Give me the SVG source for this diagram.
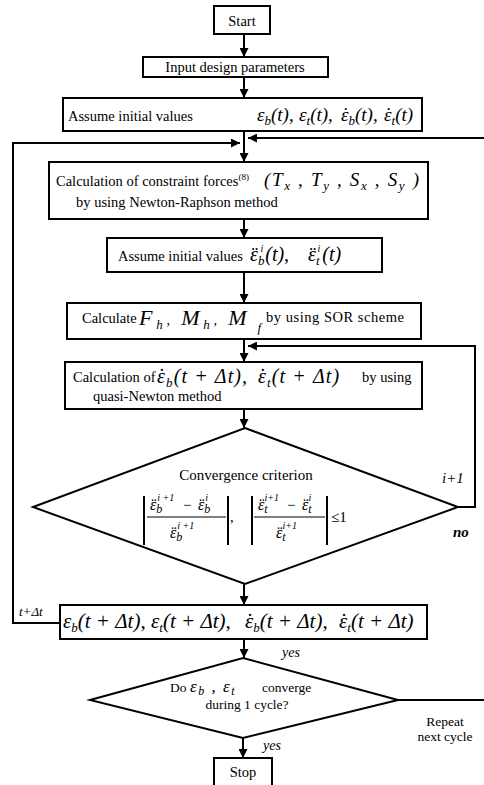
<svg xmlns="http://www.w3.org/2000/svg" width="484" height="785" viewBox="0 0 484 785">
<style>
.bx{fill:#fff;stroke:#000;stroke-width:2}
.ln{fill:none;stroke:#000;stroke-width:2}
.t{font-family:"Liberation Serif","Times New Roman",serif;font-size:14.5px;fill:#000}
.m{font-family:"Liberation Serif","Times New Roman",serif;font-style:italic;font-size:19px;fill:#000}
.f{font-family:"Liberation Serif","Times New Roman",serif;font-style:italic;font-size:15px;fill:#000}
.dt{font-style:normal}
.s{font-size:13px}
.sp{font-size:10px}
.c{text-anchor:middle}
</style>
<defs>
<marker id="ah" viewBox="0 0 10 10" refX="10" refY="5" markerWidth="9" markerHeight="9" markerUnits="userSpaceOnUse" orient="auto">
<path d="M0,0 L10,5 L0,10 z" fill="#000"/>
</marker>
</defs>
<rect width="484" height="785" fill="#fff"/>

<g id="connectors">
<line class="ln" x1="244" y1="34" x2="244" y2="57" marker-end="url(#ah)"/>
<line class="ln" x1="244" y1="77" x2="244" y2="98" marker-end="url(#ah)"/>
<line class="ln" x1="244" y1="131" x2="244" y2="162" marker-end="url(#ah)"/>
<line class="ln" x1="484" y1="138" x2="248" y2="138" marker-end="url(#ah)"/>
<polyline class="ln" points="60,623 13,623 13,143 240,143" marker-end="url(#ah)"/>
<line class="ln" x1="244" y1="219" x2="244" y2="238" marker-end="url(#ah)"/>
<line class="ln" x1="244" y1="272" x2="244" y2="303" marker-end="url(#ah)"/>
<line class="ln" x1="244" y1="339" x2="244" y2="362" marker-end="url(#ah)"/>
<polyline class="ln" points="458,507 475,507 475,346 248,346" marker-end="url(#ah)"/>
<line class="ln" x1="244" y1="409" x2="244" y2="428" marker-end="url(#ah)"/>
<line class="ln" x1="244" y1="584" x2="244" y2="605" marker-end="url(#ah)"/>
<line class="ln" x1="244" y1="639" x2="244" y2="658" marker-end="url(#ah)"/>
<line class="ln" x1="398" y1="700" x2="484" y2="700"/>
<line class="ln" x1="243" y1="738" x2="243" y2="758" marker-end="url(#ah)"/>
<text class="f" x="19" y="616" style="font-size:13px">t+Δt</text>
<text class="f" x="282" y="657" style="font-size:14px">yes</text>
<text class="f" x="263" y="750" style="font-size:14px">yes</text>
<text class="f" x="442" y="483">i+1</text>
<text class="f" x="453" y="537" style="font-weight:bold">no</text>
<text class="t c" x="445" y="726" style="font-size:13.5px">Repeat</text>
<text class="t c" x="445" y="741" style="font-size:13.5px">next cycle</text>
</g>

<g id="start">
<rect class="bx" x="214" y="6" width="56" height="28"/>
<text class="t c" x="242" y="26">Start</text>
</g>

<g id="input">
<rect class="bx" x="143" y="57" width="185" height="20"/>
<text class="t c" x="235" y="72">Input design parameters</text>
</g>

<g id="assume1">
<rect class="bx" x="63" y="98" width="359" height="33"/>
<text class="t" x="68" y="121">Assume initial values</text>
<text class="m" y="121"><tspan x="257">ε</tspan><tspan class="s" dy="4">b</tspan><tspan dy="-4">(t),</tspan><tspan x="299">ε</tspan><tspan class="s" dy="4">t</tspan><tspan dy="-4">(t),</tspan><tspan x="341">ε</tspan><tspan class="dt" dx="-6">˙</tspan><tspan class="s" dx="-0.3" dy="4">b</tspan><tspan dy="-4">(t),</tspan><tspan x="384">ε</tspan><tspan class="dt" dx="-6">˙</tspan><tspan class="s" dx="-0.3" dy="4">t</tspan><tspan dy="-4">(t)</tspan></text>
</g>

<g id="constraint">
<rect class="bx" x="49" y="162" width="379" height="57"/>
<text class="t" x="56" y="186">Calculation of constraint forces<tspan dy="-6" style="font-size:9px">(8)</tspan></text>
<text class="m" x="264" y="186" textLength="155" lengthAdjust="spacing">(T<tspan class="s" dy="4">x</tspan><tspan dy="-4"> , T</tspan><tspan class="s" dy="4">y</tspan><tspan dy="-4"> , S</tspan><tspan class="s" dy="4">x</tspan><tspan dy="-4"> , S</tspan><tspan class="s" dy="4">y</tspan><tspan dy="-4"> )</tspan></text>
<text class="t" x="76" y="207">by using Newton-Raphson method</text>
</g>

<g id="assume2">
<rect class="bx" x="107" y="238" width="275" height="34"/>
<text class="t" x="118" y="261">Assume initial values</text>
<text class="m" y="261" style="font-size:20px"><tspan x="250">ε</tspan><tspan class="dt" dx="-6.3">¨</tspan><tspan class="s" dx="-0.3" dy="4">b</tspan><tspan class="sp" dx="-4" dy="-13">i</tspan><tspan dx="2" dy="9">(t),</tspan><tspan x="308">ε</tspan><tspan class="dt" dx="-6.3">¨</tspan><tspan class="s" dx="-0.3" dy="4">t</tspan><tspan class="sp" dx="-2" dy="-13">i</tspan><tspan dx="2" dy="9">(t)</tspan></text>
</g>

<g id="calculate">
<rect class="bx" x="67" y="303" width="354" height="36"/>
<text class="t" x="82" y="323">Calculate</text>
<text class="m" x="139" y="325" style="font-size:22px" textLength="122" lengthAdjust="spacing">F<tspan class="s" dy="4">h</tspan><tspan dy="-4" style="font-size:14px">, </tspan><tspan>M</tspan><tspan class="s" dy="4">h</tspan><tspan dy="-4" style="font-size:14px">, </tspan><tspan>M</tspan><tspan class="s" dy="7"> f</tspan></text>
<text class="t" x="266" y="322" textLength="138" lengthAdjust="spacing">by using SOR scheme</text>
</g>

<g id="calcdot">
<rect class="bx" x="65" y="362" width="357" height="47"/>
<text class="t" x="73" y="382">Calculation of</text>
<text class="m" y="383" style="font-size:20px;letter-spacing:1.1px"><tspan x="157">ε</tspan><tspan class="dt" dx="-7.4">˙</tspan><tspan class="s" dx="-0.3" dy="4">b</tspan><tspan dy="-4">(t + Δt),</tspan><tspan x="258">ε</tspan><tspan class="dt" dx="-7.4">˙</tspan><tspan class="s" dx="-0.3" dy="4">t</tspan><tspan dy="-4">(t + Δt)</tspan></text>
<text class="t" x="362" y="382">by using</text>
<text class="t" x="93" y="401">quasi-Newton method</text>
</g>

<g id="convergence">
<polygon class="bx" points="245,428 458,507 245,584 33,507"/>
<text class="t c" x="246" y="480" style="font-size:15px">Convergence criterion</text>
<line class="ln" x1="144" y1="496" x2="144" y2="545"/>
<line class="ln" x1="228" y1="496" x2="228" y2="545"/>
<line class="ln" x1="252" y1="496" x2="252" y2="545"/>
<line class="ln" x1="327" y1="496" x2="327" y2="545"/>
<line stroke="#000" stroke-width="1" x1="147" y1="517" x2="226" y2="517"/>
<line stroke="#000" stroke-width="1" x1="254" y1="517" x2="325" y2="517"/>
<text class="f" y="510" style="font-size:16px"><tspan x="150">ε</tspan><tspan class="dt" dx="-5.1">¨</tspan><tspan dx="-0.3" dy="3" style="font-size:12px">b</tspan><tspan class="sp" dx="-5" dy="-12">i +1</tspan><tspan class="dt" x="183" dy="9" style="font-size:15px">−</tspan><tspan x="198">ε</tspan><tspan class="dt" dx="-5.1">¨</tspan><tspan dx="-0.3" dy="3" style="font-size:12px">b</tspan><tspan class="sp" dx="-5" dy="-12">i</tspan><tspan x="258" dy="9">ε</tspan><tspan class="dt" dx="-5.1">¨</tspan><tspan dx="-0.3" dy="3" style="font-size:12px">t</tspan><tspan class="sp" dx="-3" dy="-12">i+1</tspan><tspan class="dt" x="287" dy="9" style="font-size:15px">−</tspan><tspan x="302">ε</tspan><tspan class="dt" dx="-5.1">¨</tspan><tspan dx="-0.3" dy="3" style="font-size:12px">t</tspan><tspan class="sp" dx="-3" dy="-12">i</tspan></text>
<text class="f" y="538" style="font-size:16px"><tspan x="170">ε</tspan><tspan class="dt" dx="-5.1">¨</tspan><tspan dx="-0.3" dy="3" style="font-size:12px">b</tspan><tspan class="sp" dx="-5" dy="-12">i +1</tspan><tspan x="276" dy="9">ε</tspan><tspan class="dt" dx="-5.1">¨</tspan><tspan dx="-0.3" dy="3" style="font-size:12px">t</tspan><tspan class="sp" dx="-3" dy="-12">i+1</tspan></text>
<text class="t" x="230" y="522">,</text>
<text class="t" x="331" y="522" style="font-size:15px">≤1</text>
</g>

<g id="update">
<rect class="bx" x="60" y="605" width="367" height="34"/>
<text class="m" y="628" style="font-size:21px"><tspan x="63">ε</tspan><tspan class="s" dy="4">b</tspan><tspan dy="-4">(t + Δt),</tspan><tspan x="151">ε</tspan><tspan class="s" dy="4">t</tspan><tspan dy="-4">(t + Δt),</tspan><tspan x="245">ε</tspan><tspan class="dt" dx="-6.7">˙</tspan><tspan class="s" dx="-0.3" dy="4">b</tspan><tspan dy="-4">(t + Δt),</tspan><tspan x="339">ε</tspan><tspan class="dt" dx="-6.7">˙</tspan><tspan class="s" dx="-0.3" dy="4">t</tspan><tspan dy="-4">(t + Δt)</tspan></text>
</g>

<g id="cycle">
<polygon class="bx" points="243,658 398,700 243,738 90,700"/>
<text class="t" y="692" style="font-size:13.5px"><tspan x="170">Do</tspan><tspan x="190" class="m" style="font-size:17px;letter-spacing:1.5px">ε</tspan><tspan class="m" dy="3" style="font-size:12px;letter-spacing:1.5px">b</tspan><tspan class="m" dy="-3" style="font-size:17px;letter-spacing:1.5px"> , ε</tspan><tspan class="m" dy="3" style="font-size:12px">t</tspan><tspan x="262" dy="-3">converge</tspan></text>
<text class="t c" x="247" y="709" style="font-size:13.5px">during 1 cycle?</text>
</g>

<g id="stop">
<rect class="bx" x="214" y="758" width="58" height="32"/>
<text class="t c" x="243" y="777">Stop</text>
</g>
</svg>
